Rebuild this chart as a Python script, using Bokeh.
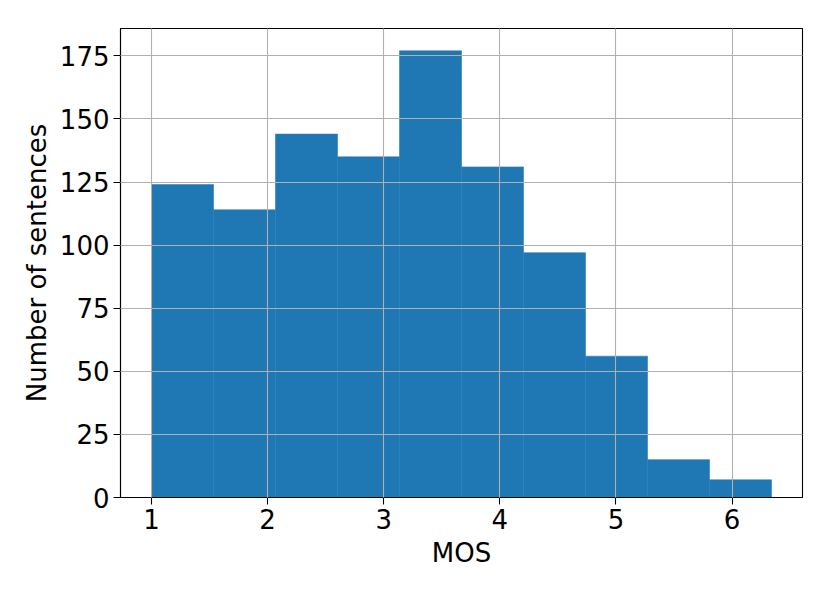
import numpy as np
from bokeh.plotting import figure
from bokeh.models import ColumnDataSource, Range1d, FixedTicker
from bokeh.embed import file_html
from bokeh.resources import INLINE

# Histogram data
bin_min = 1.0
bin_max = 6.34
counts = [124, 114, 144, 135, 177, 131, 97, 56, 15, 7]
x_ticks = [1, 2, 3, 4, 5, 6]
y_ticks = [0, 25, 50, 75, 100, 125, 150, 175]

edges = np.linspace(bin_min, bin_max, len(counts) + 1)
src = ColumnDataSource(dict(left=edges[:-1], right=edges[1:],
                            top=counts, bottom=[0] * len(counts)))

span = bin_max - bin_min
p = figure(width=814, height=577, output_backend="svg", toolbar_location=None,
           x_range=Range1d(bin_min - 0.05 * span, bin_max + 0.05 * span),
           y_range=Range1d(0, max(counts) * 1.05),
           min_border_left=120, min_border_right=12,
           min_border_top=28, min_border_bottom=80)

p.quad(left="left", right="right", top="top", bottom="bottom", source=src,
       fill_color="#1f77b4", line_color="#2a7db8", line_width=0.6)

FONT = "DejaVu Sans"
FS = "26px"

for ax in (p.xaxis[0], p.yaxis[0]):
    ax.major_label_text_font = FONT
    ax.major_label_text_font_size = FS
    ax.major_label_text_color = "black"
    ax.axis_label_text_font = FONT
    ax.axis_label_text_font_size = FS
    ax.axis_label_text_font_style = "normal"
    ax.axis_label_text_color = "black"
    ax.axis_line_color = "black"
    ax.axis_line_width = 1.1
    ax.major_tick_line_color = "black"
    ax.major_tick_line_width = 1.1
    ax.major_tick_out = 7
    ax.major_tick_in = 0
    ax.minor_tick_line_color = None
    ax.major_label_standoff = 4

p.xaxis.axis_label = "MOS"
p.yaxis.axis_label = "Number of sentences"
p.xaxis.ticker = FixedTicker(ticks=x_ticks)
p.yaxis.ticker = FixedTicker(ticks=y_ticks)
p.xaxis.axis_label_standoff = 6
p.yaxis.axis_label_standoff = 5

for g in (p.xgrid[0], p.ygrid[0]):
    g.grid_line_color = "#b0b0b0"
    g.grid_line_width = 1.1
    g.level = "overlay"

p.outline_line_color = "black"
p.outline_line_width = 1.1
p.background_fill_color = "white"
p.border_fill_color = "white"

open("out.html", "w").write(file_html(p, INLINE))
